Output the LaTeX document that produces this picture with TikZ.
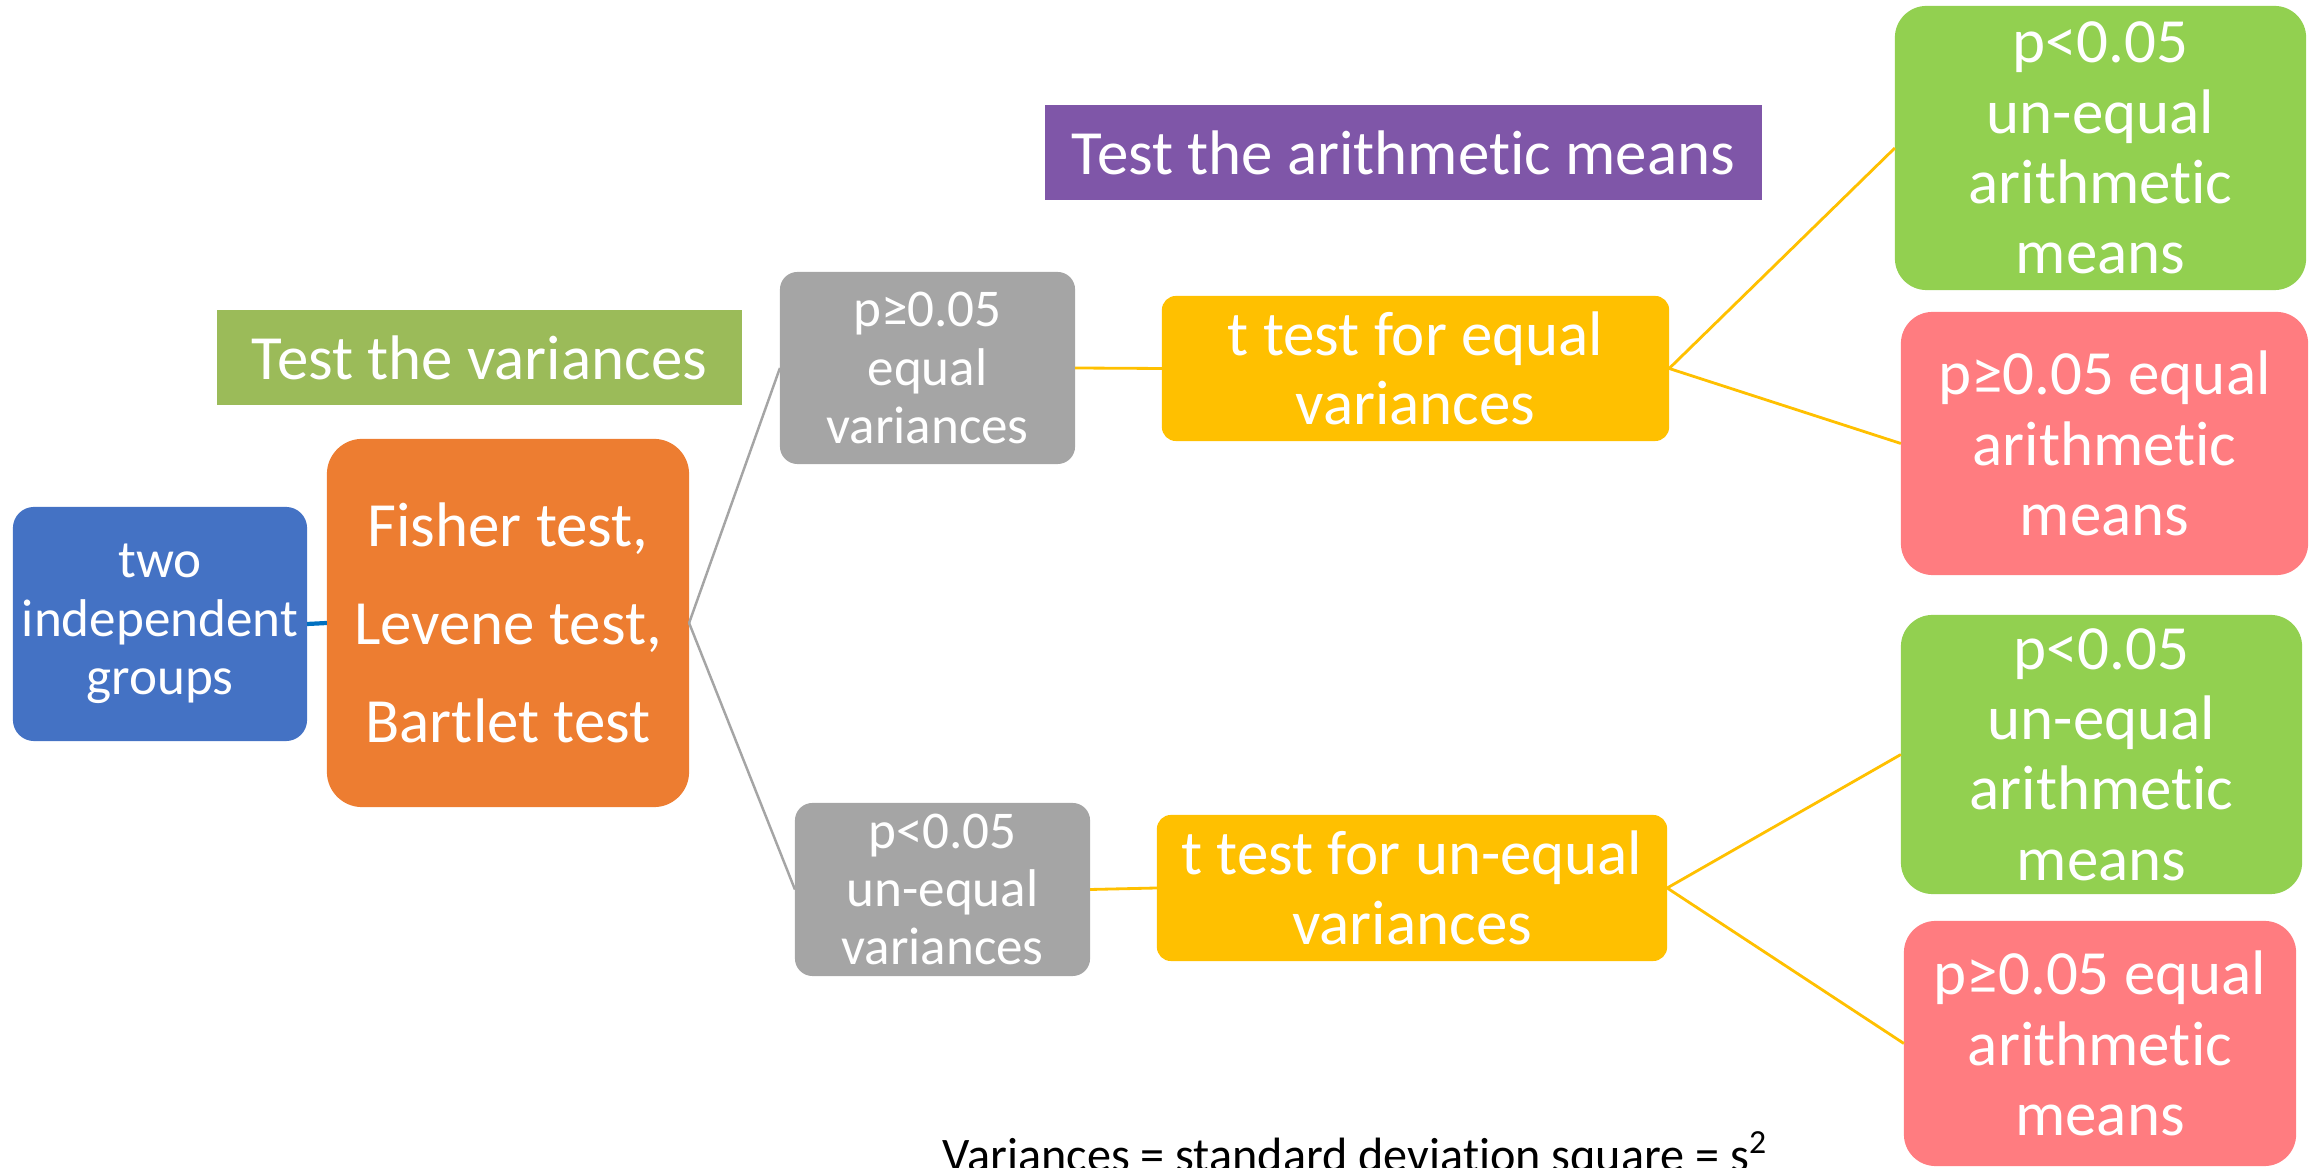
\documentclass[tikz,border=0pt]{standalone}
\usepackage{fontspec}
\setmainfont{Carlito}[Ligatures=NoCommon]
\definecolor{cblue}{HTML}{4472C4}
\definecolor{corange}{HTML}{ED7D31}
\definecolor{cgray}{HTML}{A5A5A5}
\definecolor{cyellow}{HTML}{FFC000}
\definecolor{chead}{HTML}{9BBB59}
\definecolor{cpurple}{HTML}{7F56A8}
\definecolor{cgreen}{HTML}{92D050}
\definecolor{cred}{HTML}{FF7C80}
\definecolor{clink}{HTML}{0070C0}
\begin{document}
\begin{tikzpicture}[x=0.01cm,y=-0.01cm,
  box/.style={text=white, align=center, inner sep=0pt, outer sep=0pt},
  smallfont/.style={font=\fontsize{15.1pt}{16.6pt}\selectfont},
  bigfont/.style={font=\fontsize{17.9pt}{19.8pt}\selectfont},
  graylink/.style={draw=cgray, line width=0.7pt},
  yellowlink/.style={draw=cyellow, line width=0.8pt}
]
\useasboundingbox (0,0) rectangle (2318,1168);

% header boxes
\node[box, bigfont, fill=chead, minimum width=5.25cm, minimum height=0.95cm] (hvar) at (479.5,357.5) {Test the variances};
\node[box, bigfont, fill=cpurple, minimum width=7.17cm, minimum height=0.95cm] (hmean) at (1403.5,152.5) {Test the arithmetic means};

% main boxes
\node[box, smallfont, fill=cblue, rounded corners=6pt, minimum width=2.94cm, minimum height=2.34cm] (groups) at (160,624) {two\\independent\\groups};
\node[box, font=\fontsize{17.9pt}{27.8pt}\selectfont, fill=corange, rounded corners=10pt, minimum width=3.62cm, minimum height=3.68cm] (tests) at (508,623) {Fisher test,\\Levene test,\\Bartlet test};
\node[box, smallfont, fill=cgray, rounded corners=5pt, minimum width=2.95cm, minimum height=1.92cm] (eqvar) at (927.5,368) {p≥0.05\\equal\\variances};
\node[box, smallfont, fill=cgray, rounded corners=5pt, minimum width=2.95cm, minimum height=1.73cm] (neqvar) at (942.5,889.5) {p<0.05\\un-equal\\variances};
\node[box, bigfont, fill=cyellow, rounded corners=4pt, minimum width=5.07cm, minimum height=1.45cm] (teq) at (1415.5,368.5) {t test for equal\\variances};
\node[box, bigfont, fill=cyellow, rounded corners=4pt, minimum width=5.10cm, minimum height=1.46cm] (tneq) at (1412,888) {t test for un-equal\\variances};
\node[box, font=\fontsize{17.9pt}{20pt}\selectfont, fill=cgreen, rounded corners=9pt, minimum width=4.11cm, minimum height=2.84cm] (g1) at (2100.5,148) {p<0.05\\un-equal\\arithmetic\\means};
\node[box, font=\fontsize{17.9pt}{20pt}\selectfont, fill=cred, rounded corners=9pt, minimum width=4.07cm, minimum height=2.63cm] (r1) at (2104.5,443.5) {p≥0.05 equal\\arithmetic\\means};
\node[box, font=\fontsize{17.9pt}{20pt}\selectfont, fill=cgreen, rounded corners=9pt, minimum width=4.01cm, minimum height=2.79cm] (g2) at (2101.5,754.5) {p<0.05\\un-equal\\arithmetic\\means};
\node[box, font=\fontsize{17.9pt}{20pt}\selectfont, fill=cred, rounded corners=9pt, minimum width=3.92cm, minimum height=2.45cm] (r2) at (2100,1043.5) {p≥0.05 equal\\arithmetic\\means};

% caption
\node[anchor=base west, inner sep=0pt, font=\fontsize{13.7pt}{16pt}\selectfont] (cap) at (942,1172) {Variances = standard deviation square = s\textsuperscript{2}};

% connectors
\draw[draw=clink, line width=1.2pt] (groups.east) -- (tests.west);
\draw[graylink] (tests.east) -- (eqvar.west);
\draw[graylink] (tests.east) -- (neqvar.west);
\draw[yellowlink] (eqvar.east) -- (teq.west);
\draw[yellowlink] (neqvar.east) -- (tneq.west);
\draw[yellowlink] (teq.east) -- (g1.west);
\draw[yellowlink] (teq.east) -- (r1.west);
\draw[yellowlink] (tneq.east) -- (g2.west);
\draw[yellowlink] (tneq.east) -- (r2.west);
\end{tikzpicture}
\end{document}
